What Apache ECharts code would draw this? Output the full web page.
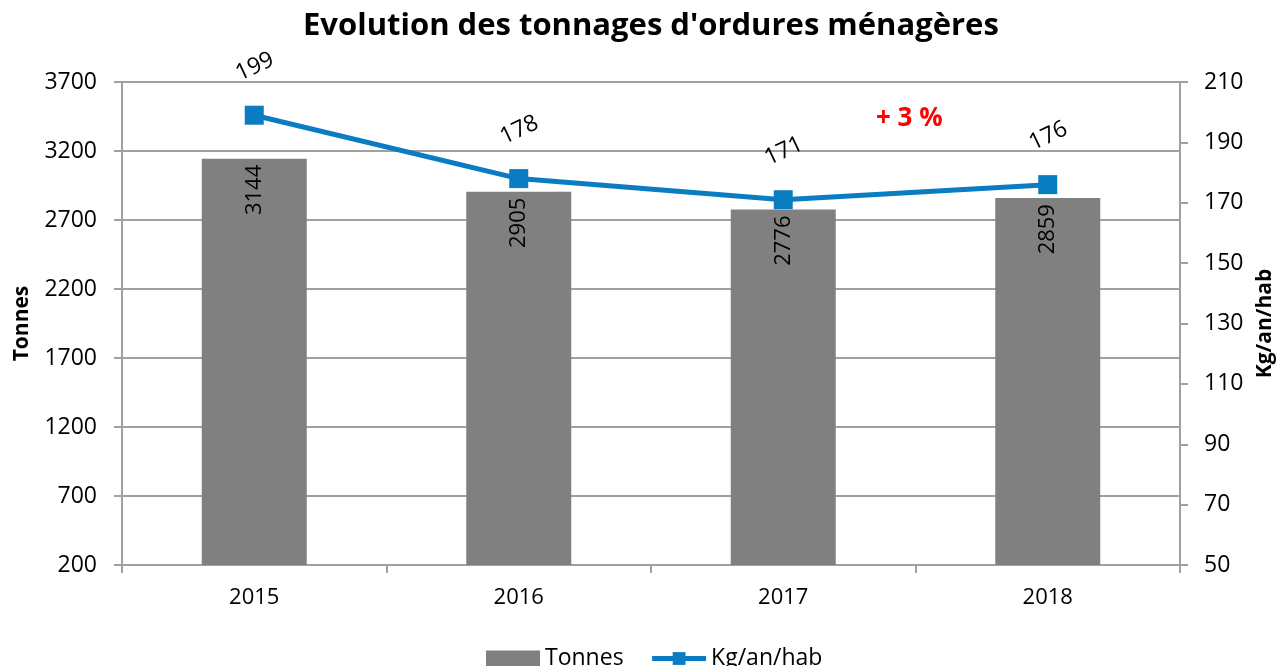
<!DOCTYPE html>
<html>
<head>
<meta charset="utf-8">
<script src="https://cdn.jsdelivr.net/npm/echarts@6/dist/echarts.min.js"></script>
<style>
  html, body { margin: 0; padding: 0; background: #fff; }
  #chart { width: 1282px; height: 666px; }
</style>
</head>
<body>
<div id="chart"></div>
<script>
    var years = ['2015', '2016', '2017', '2018'];
    var tonnes = [3144, 2905, 2776, 2859];
    var kgHab = [199, 178, 171, 176];
    var leftTicks = [200, 3700, 500];   // min, max, interval
    var rightTicks = [50, 210, 20];

    var font = '"Open Sans", "Noto Sans", sans-serif';
    var gris = '#a0a0a0';
    var bleu = '#0a7cc1';
    var chart = echarts.init(document.getElementById('chart'));
    var option = {
        animation: false,
        textStyle: { fontFamily: font },
        title: {
            text: "Evolution des tonnages d'ordures ménagères",
            left: 298,
            top: 6,
            textStyle: { fontSize: 31, fontWeight: 'bold', color: '#000', fontFamily: font }
        },
        legend: {
            bottom: -9,
            left: 481,
            itemGap: 26,
            itemWidth: 54,
            itemHeight: 16,
            textStyle: { fontSize: 23, color: '#000' },
            data: [
                { name: 'Tonnes', icon: 'rect' },
                { name: 'Kg/an/hab', lineStyle: { width: 5 } }
            ]
        },
        grid: { left: 122, right: 102, top: 82, bottom: 101, outerBoundsMode: 'none' },
        xAxis: {
            type: 'category',
            data: years,
            axisLine: { lineStyle: { color: gris, width: 2 } },
            axisTick: { show: true, length: 8, lineStyle: { color: gris, width: 2 } },
            axisLabel: { fontSize: 22, color: '#000', margin: 22 }
        },
        yAxis: [
            {
                type: 'value',
                min: leftTicks[0], max: leftTicks[1], interval: leftTicks[2],
                name: 'Tonnes',
                nameLocation: 'middle',
                nameGap: 89,
                nameRotate: 90,
                nameTextStyle: { fontSize: 21, fontWeight: 'bold', color: '#000' },
                axisLine: { show: true, lineStyle: { color: gris, width: 2 } },
                axisTick: { show: true, length: 8, lineStyle: { color: gris, width: 2 } },
                axisLabel: {
                    fontSize: 23, color: '#000', margin: 25,
                    formatter: function (v) { return String(v); }
                },
                splitLine: { lineStyle: { color: gris, width: 2 } }
            },
            {
                type: 'value',
                min: rightTicks[0], max: rightTicks[1], interval: rightTicks[2],
                name: 'Kg/an/hab',
                nameLocation: 'middle',
                nameGap: 72,
                nameRotate: 90,
                nameTextStyle: { fontSize: 21, fontWeight: 'bold', color: '#000' },
                axisLine: { show: true, lineStyle: { color: gris, width: 2 } },
                axisTick: { show: true, length: 8, lineStyle: { color: gris, width: 2 } },
                axisLabel: { fontSize: 23, color: '#000', margin: 24 },
                splitLine: { show: false }
            }
        ],
        series: [
            {
                name: 'Tonnes',
                type: 'bar',
                data: tonnes,
                barWidth: 105,
                itemStyle: { color: '#808080' },
                label: {
                    show: true,
                    position: 'insideTop',
                    rotate: 90,
                    align: 'right',
                    verticalAlign: 'middle',
                    distance: 6,
                    fontSize: 22,
                    color: '#000'
                }
            },
            {
                name: 'Kg/an/hab',
                type: 'line',
                yAxisIndex: 1,
                data: kgHab,
                symbol: 'rect',
                symbolSize: 19,
                lineStyle: { color: bleu, width: 5 },
                itemStyle: { color: bleu },
                label: {
                    show: true,
                    position: 'top',
                    distance: 26,
                    offset: [6, 0],
                    rotate: 25,
                    fontSize: 23,
                    color: '#000'
                }
            }
        ],
        graphic: [
            {
                type: 'text',
                left: 876,
                top: 106,
                style: {
                    text: '+ 3 %',
                    fill: '#ff0000',
                    font: 'bold 26px ' + font
                }
            }
        ]
    };
    chart.setOption(option);
</script>
</body>
</html>
